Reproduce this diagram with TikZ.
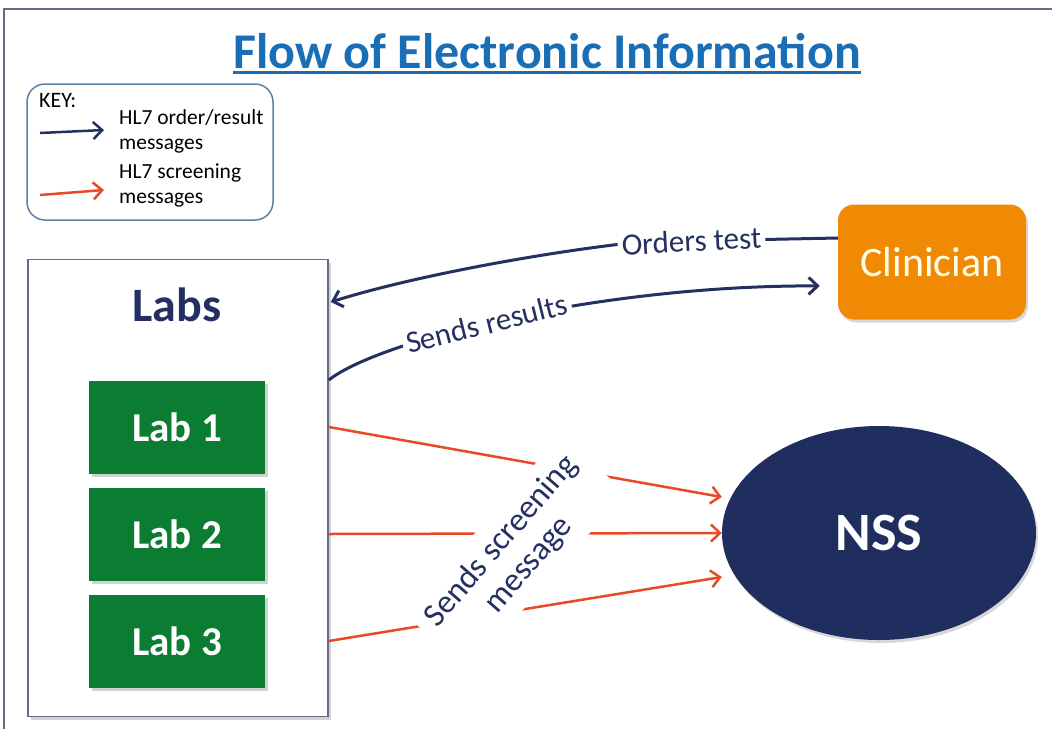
\documentclass[tikz,border=0pt]{standalone}
\usepackage{fontspec}
\setmainfont{Carlito}
\usepackage{xcolor}
\definecolor{navy}{rgb}{0.14, 0.19, 0.38}
\definecolor{nssblue}{rgb}{0.12, 0.18, 0.37}
\definecolor{scrred}{rgb}{0.91, 0.29, 0.15}
\definecolor{labgreen}{rgb}{0.04, 0.49, 0.20}
\definecolor{clinorange}{rgb}{0.94, 0.54, 0.02}
\definecolor{titleblue}{rgb}{0.10, 0.43, 0.71}
\definecolor{keyblue}{rgb}{0.36, 0.50, 0.65}
\definecolor{framegray}{rgb}{0.40, 0.42, 0.52}
\usepackage{tikz}
\usetikzlibrary{arrows.meta,shapes.geometric,shadows}

\tikzset{
  lbl/.style={fill=white,text=navy,font=\fontsize{31}{35}\selectfont,inner sep=4pt},
  navyarrow/.style={draw=navy,line width=3pt,-{Straight Barb[length=9pt,width=17pt]}},
  redarrow/.style={draw=scrred,line width=2.5pt,-{Straight Barb[length=9pt,width=17pt]}},
  labbox/.style={fill=labgreen,text=white,minimum width=176pt,minimum height=93pt,
    font=\fontsize{41}{44}\selectfont\bfseries,
    drop shadow={shadow xshift=3pt,shadow yshift=-3pt,opacity=.35}},
  keytext/.style={anchor=north west,align=left,inner sep=0pt,
    font=\fontsize{21.5}{25}\selectfont}
}

\begin{document}
\begin{tikzpicture}[x=1pt,y=-1pt]
  \useasboundingbox (0,0) rectangle (1052,729);
  \fill[white] (0,0) rectangle (1052,729);
  \draw[framegray,line width=2pt] (4,729) -- (4,9) -- (1052,9);

  %% title
  \node[text=titleblue,anchor=base,inner sep=0pt,
  font=\fontsize{50}{54}\selectfont\bfseries] (title) at (547,68) {Flow of Electronic Information};
  \draw[titleblue,line width=3pt] ([yshift=-4pt]title.south west) -- ([yshift=-4pt]title.south east);

  %% key
  \draw[keyblue,line width=1.5pt,rounded corners=18pt] (27,84) rectangle (273,220);
  \node[anchor=north west,inner sep=0pt,font=\fontsize{22}{25}\selectfont] (key) at (39,93) {KEY:};
  \coordinate (k1a) at (40,133);
  \coordinate (k1b) at (104,130);
  \coordinate (k2a) at (40,195);
  \coordinate (k2b) at (104,190);
  \draw[navyarrow,line width=2.5pt] (k1a) -- (k1b);
  \draw[redarrow] (k2a) -- (k2b);
  \node[keytext] (korder) at (119,109) {HL7 order/result\\messages};
  \node[keytext] (kscreen) at (119,164) {HL7 screening\\messages};

  %% labs
  \node[draw=framegray,line width=1.5pt,fill=white,minimum width=300pt,minimum height=457pt,
  drop shadow={shadow xshift=3pt,shadow yshift=-3pt,opacity=.35}] (labs) at (178,488) {};
  \node[text=navy,font=\fontsize{48}{52}\selectfont\bfseries] (labstitle) at (177,305) {Labs};
  \node[labbox] (lab1) at (177,427) {Lab 1};
  \node[labbox] (lab2) at (177,534) {Lab 2};
  \node[labbox] (lab3) at (177,641) {Lab 3};

  %% clinician and NSS
  \node[fill=clinorange,text=white!92!yellow,rounded corners=16pt,minimum width=188pt,minimum height=115pt,
  font=\fontsize{42}{46}\selectfont,
  drop shadow={shadow xshift=2pt,shadow yshift=-3pt,opacity=.3}] (clin) at (932,262) {Clinician};
  \node[ellipse,fill=nssblue,text=white,minimum width=314pt,minimum height=214pt,
  font=\fontsize{54}{58}\selectfont\bfseries,
  drop shadow={shadow xshift=2pt,shadow yshift=-3pt,opacity=.3}] (nss) at (879,533) {NSS};

  %% order / result messages
  \draw[navyarrow] ([yshift=24pt]clin.west) -- node[lbl,pos=0.74,rotate=3] (ordlbl) {Orders test} (640,242)
  .. controls (560,250) and (420,274) .. ([yshift=186pt,xshift=2pt]labs.east);
  \draw[navyarrow,shorten >=18pt] ([yshift=108pt]labs.east) .. controls (380,340) and (600,285) ..
  node[lbl,pos=0.45,rotate=14] (reslbl) {Sends results} ([yshift=-24pt]clin.west);

  %% screening messages
  \draw[redarrow] (labs.east |- lab1) -- ([yshift=36pt]nss.west);
  \draw[redarrow] (labs.east |- lab2) -- (nss.west);
  \draw[redarrow] (labs.east |- lab3) -- ([yshift=-44pt]nss.west);
  \node[lbl,rotate=49,align=center,inner sep=11pt,font=\fontsize{33}{36}\selectfont]
  (scrlbl) at (515,553) {Sends screening\\message};
\end{tikzpicture}
\end{document}
